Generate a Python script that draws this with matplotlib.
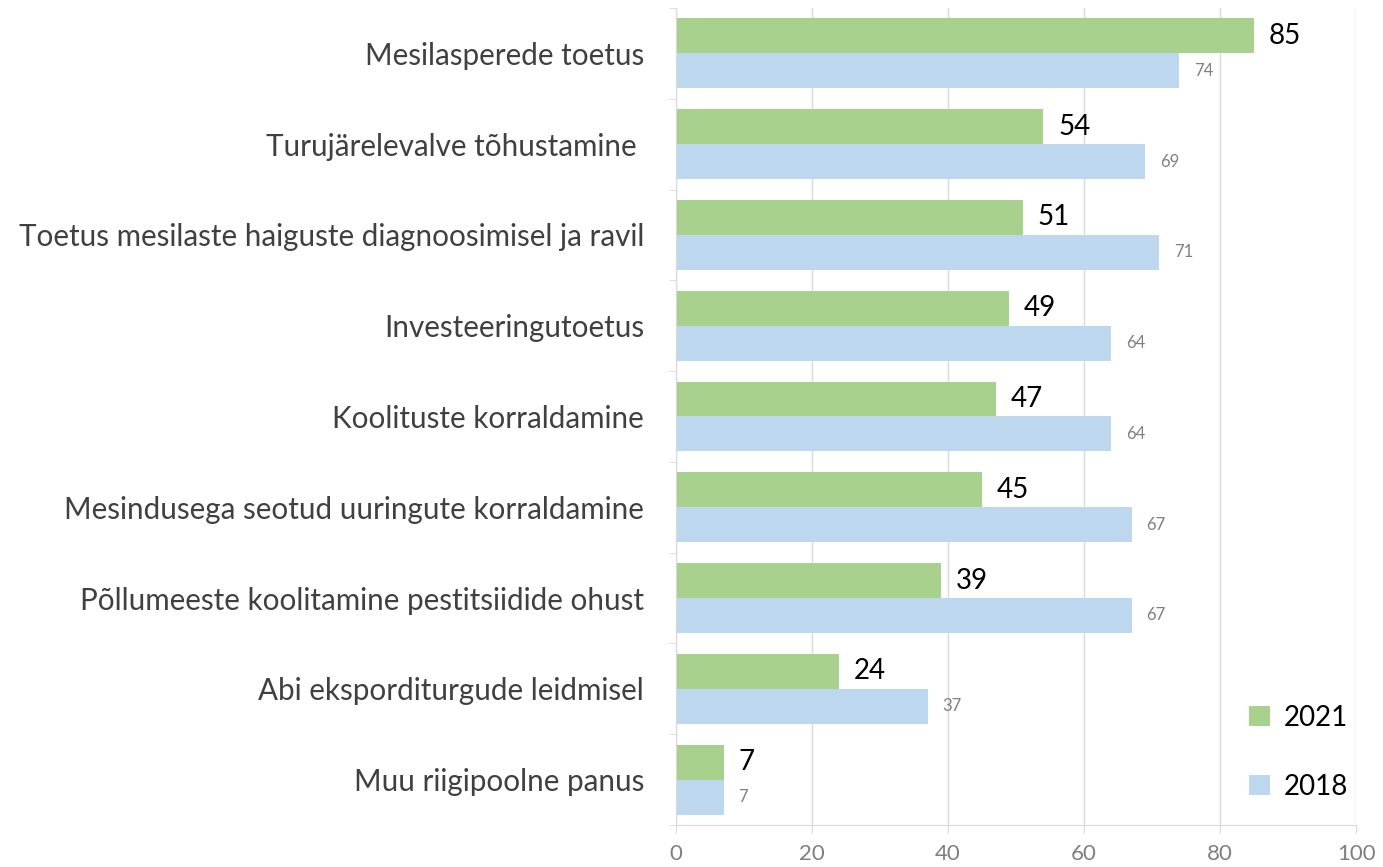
import numpy as np
import matplotlib.pyplot as plt

# Andmed
categories = [
    'Mesilasperede toetus',
    'Turujärelevalve tõhustamine ',
    'Toetus mesilaste haiguste diagnoosimisel ja ravil',
    'Investeeringutoetus',
    'Koolituste korraldamine',
    'Mesindusega seotud uuringute korraldamine',
    'Põllumeeste koolitamine pestitsiidide ohust',
    'Abi eksporditurgude leidmisel',
    'Muu riigipoolne panus',
]
values_2021 = [85, 54, 51, 49, 47, 45, 39, 24, 7]
values_2018 = [74, 69, 71, 64, 64, 67, 67, 37, 7]
x_ticks = [0, 20, 40, 60, 80, 100]

green = '#a9d18e'
blue = '#bdd7ee'
text_col = '#404040'
grid_col = '#d9d9d9'

plt.rcParams['font.family'] = ['Lato', 'DejaVu Sans']

fig = plt.figure(figsize=(13.83, 8.67), dpi=100)
ax = fig.add_axes([0.4888, 0.0485, 0.4917, 0.9423])

y = np.arange(len(categories))
h = 0.385

ax.barh(y - h / 2, values_2021, height=h, color=green, label='2021', zorder=2)
ax.barh(y + h / 2, values_2018, height=h, color=blue, label='2018', zorder=2)

for yi, v in zip(y, values_2021):
    ax.text(v + 2.2, yi - h / 2, str(v), va='center', ha='left', fontsize=20, color='black')
for yi, v in zip(y, values_2018):
    ax.text(v + 2.2, yi + h / 2, str(v), va='center', ha='left', fontsize=12, color='#7f7f7f')

ax.set_ylim(len(categories) - 0.5, -0.5)
ax.set_xlim(0, 100)
ax.set_yticks(y)
ax.set_yticklabels(categories, fontsize=21.3, color=text_col)
ax.set_yticks(np.arange(-0.5, len(categories), 1), minor=True)
ax.tick_params(axis='y', which='major', length=0, pad=23)
ax.tick_params(axis='y', which='minor', length=5, color=grid_col)
ax.set_xticks(x_ticks)
ax.tick_params(axis='x', labelsize=16, labelcolor='#7f7f7f', length=6, color=grid_col, pad=8)

ax.grid(axis='x', color=grid_col, linewidth=1, zorder=0)
for s in ['top', 'right']:
    ax.spines[s].set_visible(False)
ax.spines['left'].set_color(grid_col)
ax.spines['bottom'].set_color(grid_col)

leg = ax.legend(loc='lower right', bbox_to_anchor=(1.025, 0.0), frameon=False,
                fontsize=20, labelspacing=1.55, handlelength=0.75, handleheight=0.75,
                handletextpad=0.5)

fig.savefig('out.png', dpi=100)
